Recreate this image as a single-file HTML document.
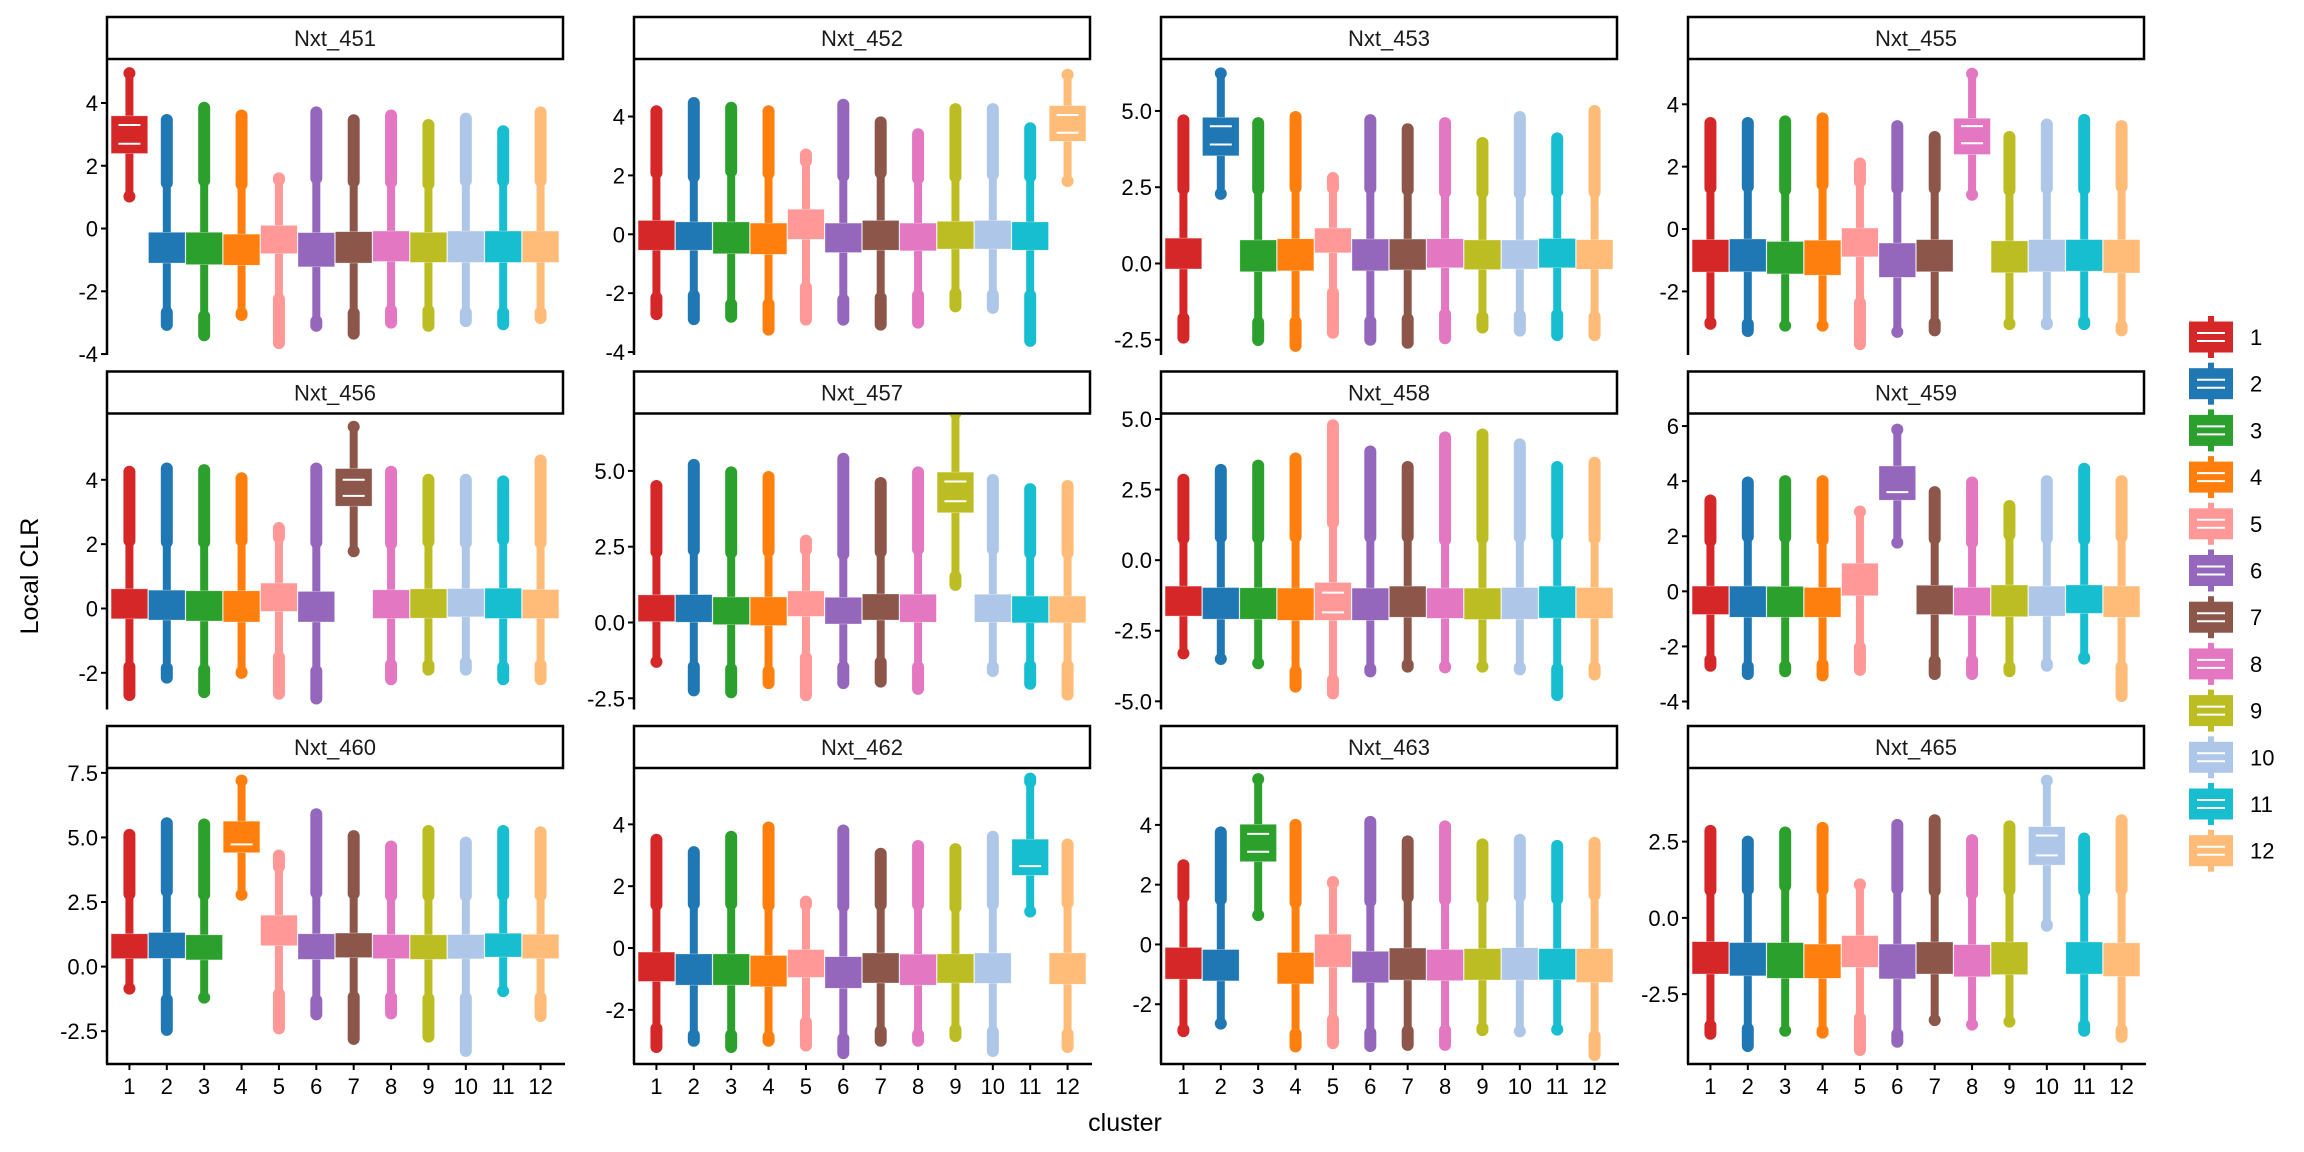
<!DOCTYPE html>
<html><head><meta charset="utf-8"><style>
html,body{margin:0;padding:0;background:#fff;}
svg{display:block;font-family:"Liberation Sans",Arial,sans-serif;}
</style></head><body>
<svg id="chart" width="2304" height="1152" viewBox="0 0 2304 1152" xmlns="http://www.w3.org/2000/svg">
<rect x="0" y="0" width="2304" height="1152" fill="#fff"/>
<text x="0" y="0" transform="translate(38,576) rotate(-90)" text-anchor="middle" font-size="25" fill="#000">Local CLR</text>
<text x="1125" y="1131" text-anchor="middle" font-size="25" fill="#000">cluster</text>
<g id="panels"></g>
<g id="legend"></g>
</svg>
<script>
const panelNames = ["Nxt_451","Nxt_452","Nxt_453","Nxt_455","Nxt_456","Nxt_457","Nxt_458","Nxt_459","Nxt_460","Nxt_462","Nxt_463","Nxt_465"];
const categories = ["1","2","3","4","5","6","7","8","9","10","11","12"];
const clusterColors = ["#d62728","#1f77b4","#2ca02c","#ff7f0e","#ff9896","#9467bd","#8c564b","#e377c2","#bcbd22","#aec7e8","#17becf","#ffbb78"];
const yDomains = [[-4.03,5.37],[-4.1,5.92],[-3.0,6.67],[-4.04,5.42],[-3.14,6.03],[-2.87,6.86],[-5.29,5.16],[-4.29,6.42],[-3.77,7.65],[-3.75,5.79],[-4.0,5.87],[-4.79,4.88]];
const yTicks = [[-4,-2,0,2,4],[-4,-2,0,2,4],[-2.5,0,2.5,5],[-2,0,2,4],[-2,0,2,4],[-2.5,0,2.5,5],[-5,-2.5,0,2.5,5],[-4,-2,0,2,4,6],[-2.5,0,2.5,5,7.5],[-2,0,2,4],[-2,0,2,4],[-2.5,0,2.5]];
const tickLabels = [["-4","-2","0","2","4"],["-4","-2","0","2","4"],["-2.5","0.0","2.5","5.0"],["-2","0","2","4"],["-2","0","2","4"],["-2.5","0.0","2.5","5.0"],["-5.0","-2.5","0.0","2.5","5.0"],["-4","-2","0","2","4","6"],["-2.5","0.0","2.5","5.0","7.5"],["-2","0","2","4"],["-2","0","2","4"],["-2.5","0.0","2.5"]];
const q3 = [
[3.59,-0.12,-0.12,-0.18,0.1,-0.13,-0.1,-0.08,-0.12,-0.08,-0.08,-0.08],
[0.47,0.42,0.42,0.38,0.85,0.38,0.47,0.38,0.44,0.47,0.42,4.37],
[0.83,4.79,0.77,0.81,1.16,0.8,0.8,0.81,0.77,0.77,0.82,0.78],
[-0.34,-0.32,-0.4,-0.36,0.03,-0.45,-0.34,3.55,-0.38,-0.34,-0.34,-0.34],
[0.61,0.57,0.55,0.55,0.79,0.53,4.35,0.58,0.61,0.62,0.63,0.59],
[0.91,0.92,0.84,0.84,1.04,0.83,0.94,0.93,4.96,0.93,0.87,0.87],
[-0.92,-0.97,-0.98,-0.99,-0.79,-0.99,-0.92,-0.99,-0.99,-0.97,-0.92,-0.97],
[0.19,0.19,0.18,0.14,1.02,4.55,0.22,0.14,0.23,0.19,0.23,0.19],
[1.27,1.32,1.23,5.63,1.99,1.27,1.3,1.24,1.23,1.24,1.29,1.25],
[-0.13,-0.19,-0.19,-0.24,-0.05,-0.28,-0.16,-0.2,-0.19,-0.16,3.52,-0.16],
[-0.1,-0.17,4.02,-0.27,0.34,-0.23,-0.12,-0.17,-0.14,-0.11,-0.14,-0.14],
[-0.78,-0.81,-0.81,-0.86,-0.58,-0.86,-0.79,-0.88,-0.79,2.99,-0.79,-0.82]];
const q1 = [
[2.39,-1.1,-1.15,-1.17,-0.8,-1.22,-1.1,-1.05,-1.08,-1.08,-1.08,-1.08],
[-0.54,-0.54,-0.66,-0.68,-0.17,-0.62,-0.54,-0.56,-0.5,-0.5,-0.54,3.16],
[-0.18,3.53,-0.27,-0.24,0.35,-0.24,-0.21,-0.14,-0.2,-0.18,-0.14,-0.19],
[-1.38,-1.37,-1.44,-1.48,-0.89,-1.55,-1.37,2.39,-1.4,-1.37,-1.35,-1.41],
[-0.32,-0.36,-0.39,-0.42,-0.09,-0.42,3.18,-0.31,-0.3,-0.26,-0.31,-0.31],
[0.03,0.01,-0.07,-0.1,0.2,-0.05,0.08,0.01,3.62,0.01,-0.01,-0.01],
[-1.98,-2.09,-2.09,-2.13,-2.13,-2.13,-2.02,-2.06,-2.1,-2.09,-2.05,-2.06],
[-0.84,-0.94,-0.94,-0.94,-0.16,3.31,-0.84,-0.88,-0.92,-0.9,-0.8,-0.94],
[0.31,0.32,0.26,4.41,0.81,0.28,0.35,0.31,0.28,0.3,0.37,0.31],
[-1.08,-1.2,-1.2,-1.25,-0.95,-1.3,-1.13,-1.2,-1.13,-1.14,2.35,-1.17],
[-1.16,-1.22,2.77,-1.32,-0.76,-1.28,-1.19,-1.21,-1.19,-1.19,-1.18,-1.27],
[-1.84,-1.9,-1.98,-1.98,-1.62,-2.0,-1.84,-1.93,-1.86,1.73,-1.84,-1.92]];
const maxVals = [
[4.95,3.46,3.85,3.6,1.6,3.7,3.45,3.6,3.3,3.5,3.1,3.7],
[4.18,4.46,4.3,4.18,2.71,4.4,3.8,3.4,4.25,4.25,3.6,5.42],
[4.69,6.23,4.6,4.8,2.8,4.7,4.4,4.6,3.95,4.8,4.1,5.0],
[3.4,3.4,3.45,3.55,2.1,3.3,2.95,4.98,2.95,3.35,3.5,3.3],
[4.25,4.35,4.3,4.05,2.5,4.35,5.65,4.25,4.0,4.0,3.95,4.6],
[4.5,5.2,4.95,4.8,2.7,5.4,4.6,4.95,6.9,4.7,4.4,4.5],
[2.85,3.2,3.35,3.6,4.78,3.85,3.3,4.35,4.45,4.1,3.3,3.45],
[3.3,3.95,4.0,4.0,2.9,5.87,3.6,3.95,3.1,4.0,4.45,4.0],
[5.1,5.55,5.5,7.2,4.3,5.9,5.05,4.65,5.25,4.8,5.25,5.2],
[3.5,3.1,3.6,3.9,1.5,3.8,3.05,3.3,3.2,3.6,5.48,3.35],
[2.65,3.75,5.53,4.0,2.05,4.1,3.45,3.95,3.35,3.5,3.3,3.4],
[2.85,2.5,2.8,2.95,1.1,3.05,3.2,2.55,3.0,4.5,2.6,3.2]];
const minVals = [
[1.02,-3.07,-3.4,-2.7,-3.65,-3.1,-3.35,-3.0,-3.1,-2.95,-3.05,-2.85],
[-2.71,-2.88,-2.8,-3.24,-2.9,-2.9,-3.07,-3.0,-2.45,-2.5,-3.62,1.81],
[-2.43,2.28,-2.51,-2.7,-2.27,-2.5,-2.6,-2.45,-2.1,-2.2,-2.35,-2.35],
[-3.0,-3.27,-3.1,-3.1,-3.69,-3.3,-3.25,1.1,-3.05,-3.05,-3.05,-3.25],
[-2.69,-2.15,-2.6,-2.0,-2.65,-2.8,1.78,-2.2,-1.9,-1.9,-2.2,-2.2],
[-1.3,-2.24,-2.3,-2.0,-2.4,-2.0,-1.95,-2.19,1.24,-1.6,-2.02,-2.38],
[-3.3,-3.5,-3.65,-4.48,-4.72,-3.85,-3.7,-3.8,-3.77,-3.8,-4.78,-4.05],
[-2.7,-3.0,-2.9,-3.05,-2.85,1.77,-3.0,-3.0,-2.9,-2.7,-2.4,-3.8],
[-0.85,-2.45,-1.2,2.78,-2.39,-1.85,-2.8,-1.81,-2.71,-3.26,-0.95,-1.91],
[-3.2,-3.0,-3.2,-3.0,-3.15,-3.4,-3.0,-3.0,-2.85,-3.33,1.18,-3.2],
[-2.9,-2.65,0.98,-3.41,-3.3,-3.4,-3.36,-3.36,-2.8,-2.9,-2.85,-3.7],
[-3.8,-4.2,-3.7,-3.7,-4.33,-4.06,-3.35,-3.5,-3.4,-0.22,-3.7,-3.9]];
const highlightCluster = [1,12,2,8,7,9,5,6,4,11,3,10];
const medianA = [3.3,4.05,4.5,3.3,4.0,4.65,-1.15,3.6,4.73,2.65,3.7,2.7];
const medianB = [2.7,3.45,3.9,2.75,3.5,4.0,-1.85,null,null,null,3.1,2.05];

const NS = "http://www.w3.org/2000/svg";
const panelsG = document.getElementById("panels");
const X0 = 107, COLP = 527, PW = 456, STRIP_TOP = 16, ROWP = 354.5, STRIP_H = 44, PH = 295;
function mk(tag, attrs, parent){ const e=document.createElementNS(NS,tag); for(const k in attrs) e.setAttribute(k,attrs[k]); parent.appendChild(e); return e; }

panelNames.forEach((name, p) => {
  const col = p % 4, row = Math.floor(p / 4);
  const x0 = X0 + col*COLP;
  const sTop = STRIP_TOP + row*ROWP;
  const top = sTop + STRIP_H, bot = top + PH;
  const dom = yDomains[p];
  const yS = v => bot - (v - dom[0])/(dom[1]-dom[0])*PH;
  const xS = k => x0 + (k + 1 - 0.4)/12.2*PW;
  const unit = PW/12.2;
  const g = mk("g", {}, panelsG);
  
  
  const clipId = "clip"+p;
  const cp = mk("clipPath", {id:clipId}, g);
  mk("rect", {x:x0+1, y:top, width:PW, height:PH}, cp);
  const strip = mk("rect", {x:x0, y:sTop+1, width:PW, height:STRIP_H-2, fill:"#fff", stroke:"#000", "stroke-width":2.5}, g);
  
  
  const st = mk("text", {x:x0+PW/2, y:sTop+STRIP_H/2+8, "text-anchor":"middle", "font-size":22, fill:"#1a1a1a"}, g);
  st.textContent = name;
  
  
  const marks = mk("g", {"clip-path":"url(#"+clipId+")"}, g);
  categories.forEach((c, k) => {
    const col_ = clusterColors[k];
    const cx = xS(k);
    const a = q1[p][k], b = q3[p][k], iqr = b - a;
    const whiHi = Math.min(maxVals[p][k], b + 1.5*iqr);
    const whiLo = Math.max(minVals[p][k], a - 1.5*iqr);
    const bg = mk("g", {}, marks);
    
    
    mk("line", {x1:cx, x2:cx, y1:yS(whiHi), y2:yS(whiLo), stroke:col_, "stroke-width":8}, bg);
    if (maxVals[p][k] > whiHi + 0.01) {
      const o = mk("line", {x1:cx, x2:cx, y1:yS(whiHi + 0.1), y2:yS(maxVals[p][k]), stroke:col_, "stroke-width":12, "stroke-linecap":"round"}, bg);
      
      
    } else {
      mk("circle", {cx:cx, cy:yS(maxVals[p][k]), r:6, fill:col_}, bg);
    }
    if (minVals[p][k] < whiLo - 0.01) {
      const o = mk("line", {x1:cx, x2:cx, y1:yS(whiLo - 0.1), y2:yS(minVals[p][k]), stroke:col_, "stroke-width":12, "stroke-linecap":"round"}, bg);
      
      
    } else {
      mk("circle", {cx:cx, cy:yS(minVals[p][k]), r:6, fill:col_}, bg);
    }
    const bw = unit*0.98;
    mk("rect", {x:cx-bw/2, y:yS(b), width:bw, height:Math.max(1, yS(a)-yS(b)), fill:col_, stroke:"#fff", "stroke-width":0.6, "stroke-opacity":0.5}, bg);
    if (k + 1 === highlightCluster[p]) {
      [medianA[p], medianB[p]].forEach(m => {
        if (m === null) return;
        mk("line", {x1:cx-bw*0.3, x2:cx+bw*0.3, y1:yS(m), y2:yS(m), stroke:"#fff", "stroke-width":2}, bg);
      });
    }
  });
  const ya = mk("line", {x1:x0, x2:x0, y1:top, y2:bot, stroke:"#000", "stroke-width":2.5}, g);
  
  
  yTicks[p].forEach((t, i) => {
    const y = yS(t);
    mk("line", {x1:x0-6, x2:x0, y1:y, y2:y, stroke:"#000", "stroke-width":2}, g);
    const tl = mk("text", {x:x0-9, y:y+8, "text-anchor":"end", "font-size":22, fill:"#000"}, g);
    tl.textContent = tickLabels[p][i];
    
    
  });
  if (row === 2) {
    const xa = mk("line", {x1:x0-1, x2:x0+PW+2, y1:bot, y2:bot, stroke:"#000", "stroke-width":2.5}, g);
    
    
    categories.forEach((c, k) => {
      const x = xS(k);
      mk("line", {x1:x, x2:x, y1:bot, y2:bot+6, stroke:"#000", "stroke-width":2}, g);
      const tl = mk("text", {x:x, y:bot+30, "text-anchor":"middle", "font-size":22, fill:"#000"}, g);
      tl.textContent = c;
      
      
    });
  }
});

const lg = document.getElementById("legend");
categories.forEach((c, i) => {
  const cy = 337 + 46.7*i;
  const e = mk("g", {}, lg);
  
  
  mk("line", {x1:2211, x2:2211, y1:cy-21, y2:cy+21, stroke:clusterColors[i], "stroke-width":6}, e);
  mk("rect", {x:2189, y:cy-15.5, width:44, height:31, fill:clusterColors[i]}, e);
  mk("line", {x1:2197, x2:2225, y1:cy-4, y2:cy-4, stroke:"#fff", "stroke-width":2}, e);
  mk("line", {x1:2197, x2:2225, y1:cy+4, y2:cy+4, stroke:"#fff", "stroke-width":2}, e);
  const t = mk("text", {x:2250, y:cy+8, "font-size":22, fill:"#000"}, e);
  t.textContent = c;
});
</script>
</body></html>
